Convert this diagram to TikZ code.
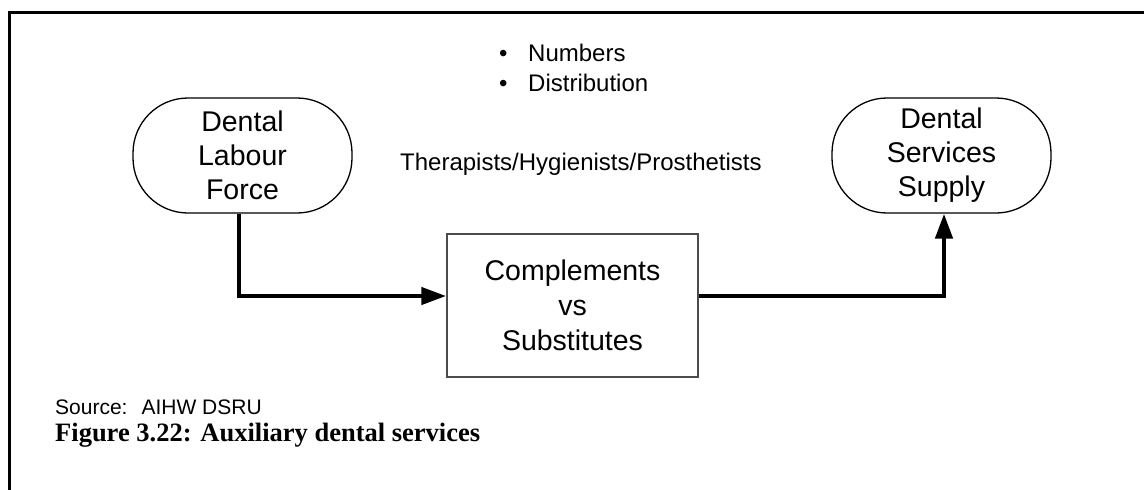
\documentclass[tikz,border=0pt]{standalone}
\usepackage{fontspec}
\setmainfont{Liberation Sans}
\newfontfamily\capfont{Liberation Serif}
\usetikzlibrary{arrows.meta}
\begin{document}
\begin{tikzpicture}[x=1pt,y=-1pt,
  pill/.style={draw=black,line width=1.3pt,rounded corners=55pt,minimum width=219pt,minimum height=115pt,align=center,inner sep=0pt,font=\fontsize{28.5}{34}\selectfont},
  boxnode/.style={draw=black!70,line width=1.5pt,minimum width=251pt,minimum height=143pt,align=center,inner sep=0pt,font=\fontsize{28.5}{35}\selectfont},
  conn/.style={line width=4.5pt,-{Triangle[length=25pt,width=17pt]}},
  plain/.style={inner sep=0pt,anchor=base west},
  frame/.style={line width=3pt}]
\useasboundingbox (0,0) rectangle (1144,490);
\coordinate (fbl) at (9,490);
\coordinate (ftl) at (9,12);
\coordinate (ftr) at (1144,12);
\draw[frame] (fbl) -- (ftl) -- (ftr);
\node[pill] (dlf) at (242.5,155.5) {Dental\\Labour\\Force};
\node[pill] (dss) at (941.5,155.5) {Dental\\Services\\Supply};
\node[boxnode] (cvs) at (572.5,305.5) {Complements\\vs\\Substitutes};
\node[plain,font=\fontsize{24}{30}\selectfont] (b1) at (499,61.5) {\makebox[29pt][l]{•}Numbers};
\node[plain,font=\fontsize{24}{30}\selectfont] (b2) at (499,91.5) {\makebox[29pt][l]{•}Distribution};
\node[plain,font=\fontsize{24}{30}\selectfont] (thp) at (400,170.5) {Therapists/Hygienists/Prosthetists};
\node[plain,font=\fontsize{21}{25}\selectfont] (src) at (55,414) {Source:\hspace{14pt}AIHW DSRU};
\node[plain,font=\capfont\bfseries\fontsize{26.5}{30}\selectfont] (cap) at (55,441) {Figure 3.22: Auxiliary dental services};
\coordinate (c1) at (239,296);
\coordinate (c2) at (944,296);
\draw[conn] ([xshift=-3.5pt]dlf.south) -- (c1) -- (cvs.west |- c1);
\draw[conn] (cvs.east |- c2) -- (c2) -- (c2 |- dss.south);
\end{tikzpicture}
\end{document}
